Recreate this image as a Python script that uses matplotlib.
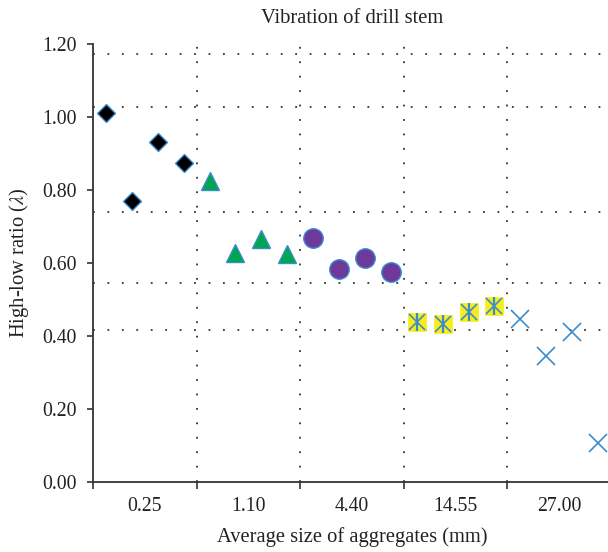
import matplotlib
matplotlib.use("Agg")
import matplotlib.pyplot as plt
from matplotlib.ticker import FixedLocator, NullFormatter, FixedFormatter

plt.rcParams['font.family'] = ['Liberation Serif', 'DejaVu Serif']
plt.rcParams['mathtext.fontset'] = 'stix'

# aggregate size classes and high-low ratio readings (4 per class)
sizes = ["0.25", "1.10", "4.40", "14.55", "27.00"]
ratio_025 = [1.012, 0.771, 0.931, 0.875]
ratio_110 = [0.824, 0.627, 0.665, 0.625]
ratio_440 = [0.668, 0.584, 0.615, 0.575]
ratio_1455 = [0.439, 0.432, 0.467, 0.482]
ratio_2700 = [0.446, 0.345, 0.410, 0.108]
grid_levels = [1.173, 1.027, 0.741, 0.546, 0.416]

blue = "#3a8ccc"
groups = [ratio_025, ratio_110, ratio_440, ratio_1455, ratio_2700]

fig = plt.figure(figsize=(6.08, 5.52), dpi=100)
ax = fig.add_axes([93 / 608, 1 - 482 / 552, 518 / 608, 438 / 552])

n = len(groups[0])
xs = []
for g, vals in enumerate(groups):
    xs.append([g * n + i + 0.5 for i in range(len(vals))])

# dotted grid
for lv in grid_levels:
    ax.axhline(lv, color="#333333", lw=1.3, ls=(0, (1, 7)), zorder=0)
for g in range(1, len(sizes)):
    ax.axvline(g * n, color="#333333", lw=1.3, ls=(0, (1, 7)), zorder=0)

ax.plot(xs[0], ratio_025, ls="none", marker="D", ms=9.5, mfc="black",
        mec=blue, mew=1.0, zorder=3)
ax.plot(xs[1], ratio_110, ls="none", marker="^", ms=13.5, mfc="#00a551",
        mec=blue, mew=1.0, zorder=3)
ax.plot(xs[2], ratio_440, ls="none", marker="o", ms=14, mfc="#6f399c",
        mec=blue, mew=1.0, zorder=3)
ax.plot(xs[3], ratio_1455, ls="none", marker="s", ms=13.5, mfc="#f7ec1c",
        mec="#f7ec1c", mew=0.5, zorder=3)
ax.plot(xs[3], ratio_1455, ls="none", marker="x", ms=12, mec=blue,
        mew=1.2, zorder=4)
ax.plot(xs[3], ratio_1455, ls="none", marker="|", ms=13, mec=blue,
        mew=1.6, zorder=4)
ax.plot(xs[4], ratio_2700, ls="none", marker="x", ms=13.2, mec=blue,
        mew=1.2, zorder=3, clip_on=False)

ax.set_xlim(0, len(sizes) * n)
ax.set_ylim(0, 1.2)

ax.xaxis.set_major_locator(FixedLocator([g * n for g in range(len(sizes))]))
ax.xaxis.set_major_formatter(NullFormatter())
ax.xaxis.set_minor_locator(FixedLocator([g * n + n / 2 for g in range(len(sizes))]))
ax.xaxis.set_minor_formatter(FixedFormatter(sizes))
ax.tick_params(axis="x", which="major", direction="out", length=5, width=1.2,
               color="#333333")
ax.tick_params(axis="x", which="minor", length=0, pad=11, labelsize=14.2,
               labelcolor="#222222")

ax.set_yticks([0, 0.2, 0.4, 0.6, 0.8, 1.0, 1.2])
ax.set_yticklabels(["%.2f" % v for v in [0, 0.2, 0.4, 0.6, 0.8, 1.0, 1.2]])
ax.tick_params(axis="y", direction="out", length=4.5, width=1.2, pad=7,
               labelsize=14.2, color="#333333", labelcolor="#222222")

for s in ["top", "right"]:
    ax.spines[s].set_visible(False)
for s in ["left", "bottom"]:
    ax.spines[s].set_color("#333333")
    ax.spines[s].set_linewidth(1.3)

ax.set_title("Vibration of drill stem", fontsize=14.8, pad=15, color="#222222")
ax.set_xlabel("Average size of aggregates (mm)", fontsize=14.8, labelpad=8,
              color="#222222")
ax.set_ylabel(r"High-low ratio ($\lambda$)", fontsize=14.8, labelpad=8,
              color="#222222")

fig.savefig("out.png", dpi=100)
